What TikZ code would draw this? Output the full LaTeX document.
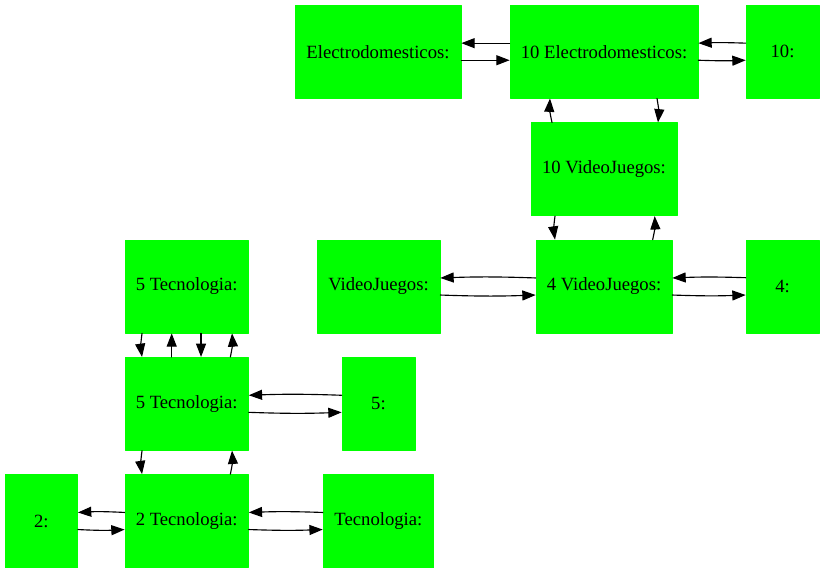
\documentclass[tikz,border=0pt]{standalone}
\usepackage{fontspec}
\setmainfont{Liberation Serif}
\usepackage{tikz}
\usetikzlibrary{arrows.meta}
\definecolor{Verde}{HTML}{00FF00}

\tikzset{
    caja/.style={rectangle,fill=Verde,draw=Verde,line width=0.5pt,minimum height=69.75pt,inner sep=0pt,font=\fontsize{14}{17}\selectfont},
    flecha/.style={->,line width=0.85pt,color=black}
}

\begin{document}
\begin{tikzpicture}[line cap=round,line join=round,>={Triangle[length=10pt,width=7.5pt]},x=0.75pt,y=-0.75pt]
    \useasboundingbox (0,0) rectangle (824,573);

    \node[caja,minimum width=124.5pt] (electro) at (378,51.7) {Electrodomesticos:};
    \node[caja,minimum width=141pt] (electroX) at (604,51.7) {10 Electrodomesticos:};
    \node[caja,minimum width=54.75pt] (diez) at (782.5,51.7) {10:};
    \node[caja,minimum width=109.5pt] (videoX) at (604,169.3) {10 VideoJuegos:};
    \node[caja,minimum width=92.25pt] (video) at (378.5,286.5) {VideoJuegos:};
    \node[caja,minimum width=102pt] (videoIV) at (604,286.5) {4 VideoJuegos:};
    \node[caja,minimum width=54.75pt] (cuatro) at (782.5,286.5) {4:};
    \node[caja,minimum width=92.6pt] (tecVa) at (186.7,286.5) {5 Tecnologia:};
    \node[caja,minimum width=92.6pt] (tecVb) at (186.7,403.8) {5 Tecnologia:};
    \node[caja,minimum width=54.75pt] (cinco) at (378.5,403.8) {5:};
    \node[caja,minimum width=54.5pt] (dos) at (41.3,521) {2:};
    \node[caja,minimum width=92.6pt] (tecII) at (186.7,521) {2 Tecnologia:};
    \node[caja,minimum width=83pt] (tec) at (378.4,521) {Tecnologia:};

    \draw [flecha] ([yshift=6.4pt]electroX.west) -- ([yshift=6.4pt]electro.east);
    \draw [flecha] ([yshift=-6.4pt]electro.east) -- ([yshift=-6.4pt]electroX.west);
    \draw [flecha] ([yshift=6.4pt]diez.west) to[bend right=2] ([yshift=6.4pt]electroX.east);
    \draw [flecha] ([yshift=-6.4pt]electroX.east) to[bend right=2] ([yshift=-6.4pt]diez.west);

    \draw [flecha] ([xshift=-39pt]videoX.north) to[bend left=8] ([xshift=-40.5pt]electroX.south);
    \draw [flecha] ([xshift=39.75pt]electroX.south) to[bend left=8] ([xshift=40.5pt]videoX.north);
    \draw [flecha] ([xshift=-36.75pt]videoX.south) to[bend right=8] ([xshift=-36.75pt]videoIV.north);
    \draw [flecha] ([xshift=36.5pt]videoIV.north) to[bend right=8] ([xshift=38pt]videoX.south);

    \draw [flecha] ([yshift=6.4pt]videoIV.west) to[bend right=2] ([yshift=6.4pt]video.east);
    \draw [flecha] ([yshift=-6.4pt]video.east) to[bend right=2] ([yshift=-6.4pt]videoIV.west);
    \draw [flecha] ([yshift=6.6pt]cuatro.west) to[bend right=2] ([yshift=6.4pt]videoIV.east);
    \draw [flecha] ([yshift=-6.4pt]videoIV.east) to[bend right=2] ([yshift=-6.4pt]cuatro.west);

    \draw [flecha] ([xshift=-33.5pt]tecVa.south) to[bend right=8] ([xshift=-33.5pt]tecVb.north);
    \draw [flecha] ([xshift=-11.25pt]tecVb.north) -- ([xshift=-11.25pt]tecVa.south);
    \draw [flecha] ([xshift=10.75pt]tecVa.south) -- ([xshift=10.75pt]tecVb.north);
    \draw [flecha] ([xshift=32.75pt]tecVb.north) to[bend right=8] ([xshift=34pt]tecVa.south);

    \draw [flecha] ([yshift=6.4pt]cinco.west) to[bend right=2] ([yshift=6.4pt]tecVb.east);
    \draw [flecha] ([yshift=-6.4pt]tecVb.east) to[bend right=2] ([yshift=-6.4pt]cinco.west);

    \draw [flecha] ([xshift=-33.5pt]tecVb.south) to[bend right=8] ([xshift=-33.5pt]tecII.north);
    \draw [flecha] ([xshift=32.75pt]tecII.north) to[bend right=8] ([xshift=34pt]tecVb.south);

    \draw [flecha] ([yshift=6.4pt]tecII.west) to[bend right=3] ([yshift=6.4pt]dos.east);
    \draw [flecha] ([yshift=-6.4pt]dos.east) to[bend right=3] ([yshift=-6.4pt]tecII.west);
    \draw [flecha] ([yshift=6.4pt]tec.west) to[bend right=2] ([yshift=6.4pt]tecII.east);
    \draw [flecha] ([yshift=-6.4pt]tecII.east) to[bend right=2] ([yshift=-6.4pt]tec.west);
\end{tikzpicture}
\end{document}
